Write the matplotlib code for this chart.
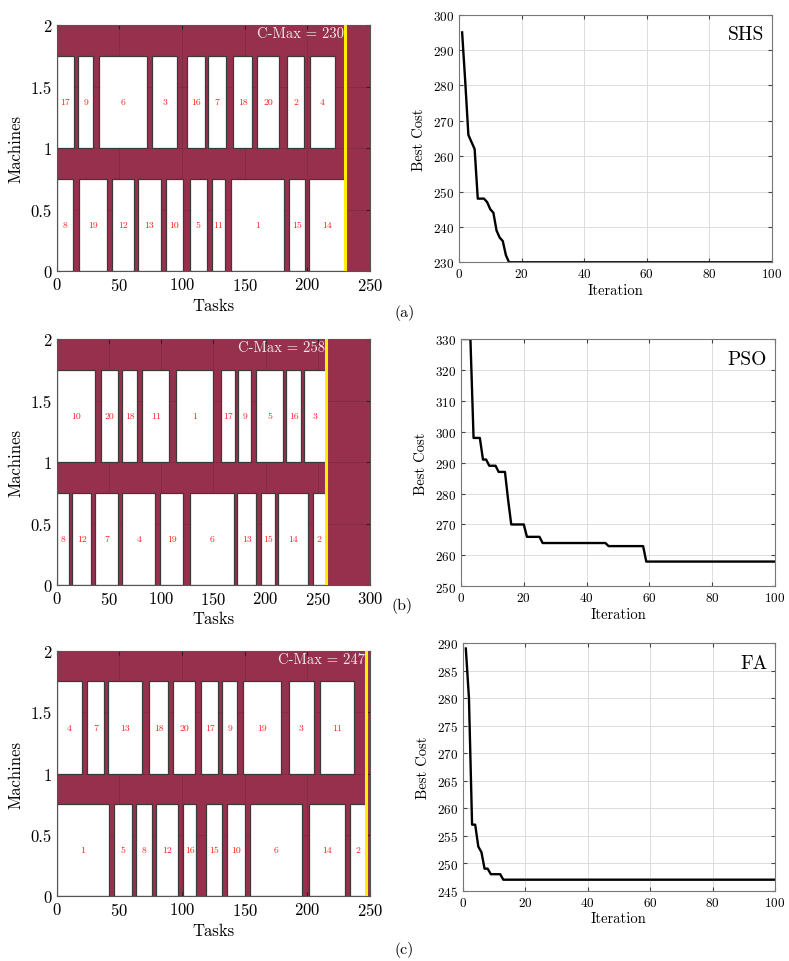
import matplotlib
matplotlib.use("Agg")
import matplotlib.pyplot as plt

plt.rcParams['font.family'] = ['cmr10', 'DejaVu Serif']
plt.rcParams['axes.formatter.use_mathtext'] = True
plt.rcParams['mathtext.fontset'] = 'cm'

# ---- schedules (machine 2 = top row, machine 1 = bottom row)
a_top_tasks = [17, 9, 6, 3, 16, 7, 18, 20, 2, 4]
a_top_start = [0, 17, 34, 76, 104, 121, 141, 160, 184, 202]
a_top_end = [14, 29, 72, 96, 118, 135, 156, 177, 197, 222]
a_bot_tasks = [8, 19, 12, 13, 10, 5, 11, 1, 15, 14]
a_bot_start = [0, 18, 44, 65, 87, 106, 124, 139, 185, 201]
a_bot_end = [13, 40, 62, 83, 101, 120, 134, 181, 198, 230]

b_top_tasks = [10, 20, 18, 11, 1, 17, 9, 5, 16, 3]
b_top_start = [0, 42, 63, 82, 114, 157, 174, 191, 220, 237]
b_top_end = [37, 59, 77, 108, 150, 171, 186, 217, 234, 258]
b_bot_tasks = [8, 12, 7, 4, 19, 6, 13, 15, 14, 2]
b_bot_start = [0, 15, 37, 63, 99, 128, 173, 196, 212, 245]
b_bot_end = [12, 33, 59, 94, 121, 170, 191, 209, 241, 258]

c_top_tasks = [4, 7, 13, 18, 20, 17, 9, 19, 3, 11]
c_top_start = [0, 24, 41, 74, 93, 115, 132, 149, 185, 210]
c_top_end = [20, 38, 68, 89, 110, 129, 144, 179, 205, 237]
c_bot_tasks = [1, 5, 8, 12, 16, 15, 10, 6, 14, 2]
c_bot_start = [0, 46, 63, 79, 101, 119, 136, 154, 201, 234]
c_bot_end = [42, 60, 76, 97, 111, 132, 150, 196, 230, 247]

cmax = [230, 258, 247]

# ---- convergence curves (best cost per iteration)
shs_cost = [295, 281, 266, 264, 262, 248, 248, 248, 247, 245, 244, 239, 237, 236, 232] + [230] * 85
pso_cost = [330, 330, 330, 298, 298, 298, 291, 291, 289, 289, 289, 287, 287, 287, 278,
            270, 270, 270, 270, 270, 266, 266, 266, 266, 266] + [264] * 21 + [263] * 12 + [258] * 42
fa_cost = [289, 280, 257, 257, 253, 252, 249, 249, 248, 248, 248, 248] + [247] * 88
names = ['SHS', 'PSO', 'FA']

W, H = 789, 962
fig = plt.figure(figsize=(W / 100, H / 100), dpi=100)


def box(l, t, r, b):
    return [l / W, 1 - b / H, (r - l) / W, (b - t) / H]


maroon = '#97304C'


def gantt(ax, top, bot, cm, xmax):
    ax.set_facecolor(maroon)
    ax.set_axisbelow(True)
    ax.grid(True, color='black', alpha=0.12, lw=0.6)
    for (tasks, st, en), y0 in [(top, 1.0), (bot, 0.0)]:
        for t, s, e in zip(tasks, st, en):
            ax.add_patch(plt.Rectangle((s, y0), e - s, 0.75, facecolor='white',
                                       edgecolor='#3a3a3a', lw=0.9, zorder=2))
            ax.text((s + e) / 2, y0 + 0.375, str(t), color='#ff1a1a', fontsize=7,
                    ha='center', va='center', zorder=3)
    ax.axvline(cm, color='#ffee00', lw=2.2, zorder=4)
    ax.text(cm - 1, 1.93, 'C-Max = %d' % cm, color='#eeeeee', fontsize=10.5,
            ha='right', va='center', zorder=5)
    ax.set_xlim(0, xmax)
    ax.set_ylim(0, 2)
    ax.set_yticks([0, 0.5, 1, 1.5, 2])
    ax.set_yticklabels(['0', '0.5', '1', '1.5', '2'])
    ax.set_xticks(range(0, xmax + 1, 50))
    ax.tick_params(direction='in', top=True, right=True, labelsize=12, length=3, color='#222222')
    for sp in ax.spines.values():
        sp.set_color('#555555')
        sp.set_linewidth(0.8)
    ax.set_xlabel('Tasks', fontsize=12, labelpad=3)
    ax.set_ylabel('Machines', fontsize=12, labelpad=5)


def curve(ax, cost, name, ylo, yhi, ystep):
    it = list(range(1, len(cost) + 1))
    ax.plot(it, cost, color='black', lw=1.7)
    ax.set_xlim(0, 100)
    ax.set_ylim(ylo, yhi)
    ax.set_yticks(range(ylo, yhi + 1, ystep))
    ax.set_xticks(range(0, 101, 20))
    ax.grid(True, color='#dddddd', lw=0.7)
    ax.tick_params(direction='in', top=True, right=True, labelsize=9.5, length=3, color='#444444')
    for sp in ax.spines.values():
        sp.set_color('#777777')
        sp.set_linewidth(0.8)
    ax.set_xlabel('Iteration', fontsize=10.5, labelpad=2)
    ax.set_ylabel('Best Cost', fontsize=10.5, labelpad=5)
    ax.text(0.975, 0.92, name, transform=ax.transAxes, fontsize=14, ha='right', va='center')


ax1 = fig.add_axes(box(56.7, 26, 370, 272.3))
gantt(ax1, (a_top_tasks, a_top_start, a_top_end), (a_bot_tasks, a_bot_start, a_bot_end), cmax[0], 250)
ax2 = fig.add_axes(box(459, 15.7, 771.7, 263.3))
curve(ax2, shs_cost, names[0], 230, 300, 10)

ax3 = fig.add_axes(box(56.7, 340, 370, 586))
gantt(ax3, (b_top_tasks, b_top_start, b_top_end), (b_bot_tasks, b_bot_start, b_bot_end), cmax[1], 300)
ax4 = fig.add_axes(box(461, 340, 775, 587.3))
curve(ax4, pso_cost, names[1], 250, 330, 10)

ax5 = fig.add_axes(box(56.7, 651.7, 370, 897.3))
gantt(ax5, (c_top_tasks, c_top_start, c_top_end), (c_bot_tasks, c_bot_start, c_bot_end), cmax[2], 250)
ax6 = fig.add_axes(box(462.7, 644, 775, 891.7))
curve(ax6, fa_cost, names[2], 245, 290, 5)

# sub-figure captions
fig.text(405 / W, 1 - 313 / H, '(a)', fontsize=11.5, ha='center', va='center')
fig.text(402 / W, 1 - 606 / H, '(b)', fontsize=11.5, ha='center', va='center')
fig.text(404 / W, 1 - 950 / H, '(c)', fontsize=11.5, ha='center', va='center')

fig.savefig('out.png', dpi=100)
